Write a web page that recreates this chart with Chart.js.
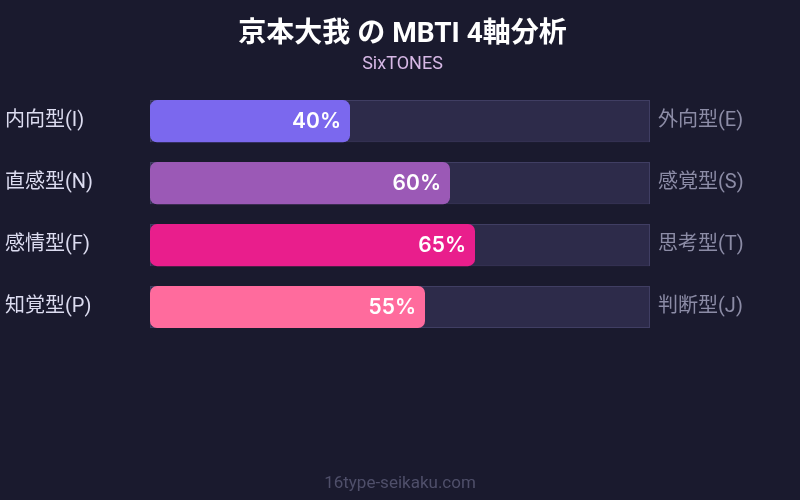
<!DOCTYPE html>
<html>
<head>
<meta charset="utf-8">
<script src="https://cdn.jsdelivr.net/npm/chart.js@4"></script>
<style>
  html, body { margin: 0; padding: 0; background: #1a1a2e; }
  #wrap { width: 800px; height: 500px; }
</style>
</head>
<body>
<div id="wrap"><canvas id="mbti"></canvas></div>
<script>
const leftLabels = ['内向型(I)', '直感型(N)', '感情型(F)', '知覚型(P)'];
const rightLabels = ['外向型(E)', '感覚型(S)', '思考型(T)', '判断型(J)'];
const scores = [40, 60, 65, 55];
const barColors = ['#7b68ee', '#9b59b6', '#e91e8c', '#ff6b9d'];
const trackValues = [100, 100, 100, 100];

const FONT = "Roboto, 'Noto Sans CJK JP', sans-serif";

// percent text at the end of each bar
const valueText = {
  id: 'valueText',
  afterDatasetsDraw(chart) {
    const ctx = chart.ctx;
    const meta = chart.getDatasetMeta(1);
    ctx.save();
    ctx.font = '600 21px Inter, sans-serif';
    ctx.fillStyle = '#ffffff';
    ctx.textAlign = 'right';
    ctx.textBaseline = 'middle';
    meta.data.forEach((bar, i) => {
      ctx.fillText(scores[i] + '%', bar.x - 9, bar.y + 1);
    });
    ctx.restore();
  }
};

// site name at the bottom
const footer = {
  id: 'footer',
  afterDraw(chart) {
    const ctx = chart.ctx;
    ctx.save();
    ctx.font = '17px ' + FONT;
    ctx.fillStyle = '#4f4f6a';
    ctx.textAlign = 'center';
    ctx.textBaseline = 'middle';
    ctx.fillText('16type-seikaku.com', chart.width / 2, 484);
    ctx.restore();
  }
};

new Chart(document.getElementById('mbti'), {
  type: 'bar',
  data: {
    labels: leftLabels,
    datasets: [{
      data: trackValues,
      backgroundColor: '#2d2b4a',
      borderColor: '#403e63',
      borderWidth: 1,
      borderSkipped: false,
      order: 2
    }, {
      data: scores,
      backgroundColor: barColors,
      borderRadius: 7,
      borderSkipped: false,
      order: 1
    }]
  },
  options: {
    indexAxis: 'y',
    responsive: true,
    maintainAspectRatio: false,
    animation: false,
    grouped: false,
    categoryPercentage: 0.68,
    barPercentage: 1,
    layout: { padding: { left: 5, right: 0, bottom: 162 } },
    scales: {
      x: { display: false, min: 0, max: 100 },
      y: {
        grid: { display: false },
        border: { display: false },
        afterFit(s) { s.width = 145; },
        ticks: {
          crossAlign: 'far',
          color: '#dcdcf0',
          font: { family: FONT, size: 20 }
        }
      },
      y2: {
        type: 'category',
        labels: rightLabels,
        position: 'right',
        grid: { display: false },
        border: { display: false },
        afterFit(s) { s.width = 150; },
        ticks: {
          padding: 0,
          color: '#8c8ca6',
          font: { family: FONT, size: 20 }
        }
      }
    },
    plugins: {
      legend: { display: false },
      tooltip: { enabled: false },
      title: {
        display: true,
        text: '京本大我 の MBTI 4軸分析',
        color: '#ffffff',
        font: { family: FONT, size: 28, weight: 'bold' },
        padding: { top: 18, bottom: 2 }
      },
      subtitle: {
        display: true,
        text: 'SixTONES',
        color: '#d7b8e6',
        font: { family: FONT, size: 18 },
        padding: { bottom: 15 }
      }
    }
  },
  plugins: [valueText, footer]
});
</script>
</body>
</html>
